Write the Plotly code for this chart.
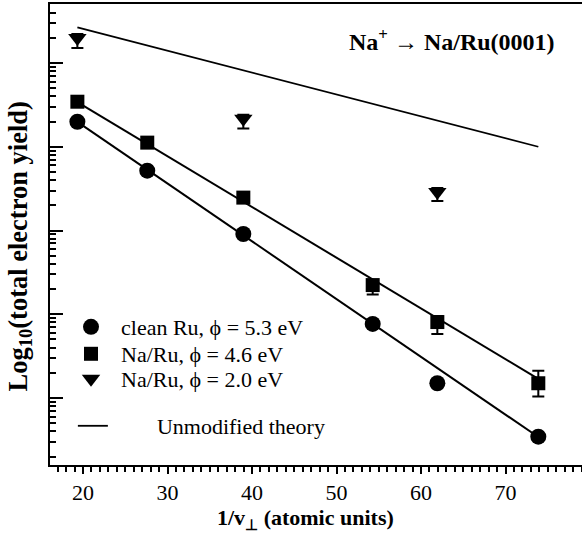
import plotly.graph_objects as go

# ---------------- data ----------------
x_ru = [19.33, 27.6, 38.97, 54.28, 61.93, 73.88]
y_clean = [0.199, 0.0518, 0.00908, 7.66e-4, 1.50e-4, 3.45e-5]
y_na46 = [0.345, 0.112, 0.0247, 2.23e-3, 8.07e-4, 1.50e-4]
err_na46_up = [0, 0, 0, 3.3e-4, 1.46e-4, 6.2e-5]
err_na46_down = [0, 0, 0, 5.1e-4, 2.26e-4, 4.6e-5]

x_na20 = [19.33, 38.97, 61.93]
y_na20 = [1.99, 0.216, 0.0288]
err_na20_up = [0.23, 0.025, 0.0034]
err_na20_down = [0.48, 0.051, 0.0063]

x_line = [19.33, 73.88]
y_theory = [2.67, 0.100]
y_fit_clean = [0.198, 3.42e-5]
y_fit_na46 = [0.342, 1.69e-4]

x_ticks = [20, 30, 40, 50, 60, 70]

names = ["clean Ru, \u03d5 = 5.3 eV", "Na/Ru, \u03d5 = 4.6 eV", "Na/Ru, \u03d5 = 2.0 eV"]
theory_name = "\u00a0" * 8 + "Unmodified theory"

FONT = "Liberation Serif, Times New Roman, serif"
LEG_FONT = dict(size=22, family=FONT)

fig = go.Figure()

# fit lines
fig.add_trace(go.Scatter(x=x_line, y=y_fit_clean, mode="lines",
                         line=dict(color="black", width=2), showlegend=False, hoverinfo="skip"))
fig.add_trace(go.Scatter(x=x_line, y=y_fit_na46, mode="lines",
                         line=dict(color="black", width=2), showlegend=False, hoverinfo="skip"))

# data
fig.add_trace(go.Scatter(x=x_ru, y=y_clean, mode="markers", name=names[0],
                         marker=dict(symbol="circle", size=16, color="black"),
                         legend="legend"))
fig.add_trace(go.Scatter(x=x_ru, y=y_na46, mode="markers", name=names[1],
                         marker=dict(symbol="square", size=14, color="black"),
                         error_y=dict(type="data", symmetric=False, array=err_na46_up,
                                      arrayminus=err_na46_down, color="black",
                                      thickness=2, width=6),
                         legend="legend2"))
fig.add_trace(go.Scatter(x=x_na20, y=y_na20, mode="markers", name=names[2],
                         marker=dict(symbol="triangle-down", size=16, color="black"),
                         error_y=dict(type="data", symmetric=False, array=err_na20_up,
                                      arrayminus=err_na20_down, color="black",
                                      thickness=2, width=6),
                         legend="legend3"))

# theory
fig.add_trace(go.Scatter(x=x_line, y=y_theory, mode="lines", name=theory_name,
                         line=dict(color="black", width=1.8), legend="legend4"))


def leg(y, itemwidth=50, x=0.0207):
    return dict(x=x, y=y, xanchor="left", yanchor="middle",
                bgcolor="rgba(0,0,0,0)", itemwidth=itemwidth, font=LEG_FONT)


fig.update_layout(
    width=582, height=533,
    margin=dict(l=50, r=0, t=4, b=68),
    paper_bgcolor="white", plot_bgcolor="white",
    font=dict(family=FONT, color="black", size=20),
    showlegend=True,
    legend=leg(0.2993),
    legend2=leg(0.2408),
    legend3=leg(0.1866),
    legend4=leg(0.0846, itemwidth=30, x=0.043),
    xaxis=dict(range=[16.09, 79.05], tickvals=x_ticks, ticktext=[str(v) for v in x_ticks],
               ticks="outside", ticklen=7, tickwidth=2, tickcolor="black",
               minor=dict(ticks="outside", dtick=1, ticklen=5, tickwidth=1.5, tickcolor="black"),
               showline=True, linecolor="black", linewidth=2, mirror=True,
               showgrid=False, zeroline=False, tickfont=dict(size=22, family=FONT)),
    yaxis=dict(type="log", range=[-4.800, 0.7045], dtick=1,
               ticks="inside", ticklen=13, tickwidth=2, tickcolor="black",
               minor=dict(ticks="inside", dtick="D1", ticklen=6, tickwidth=1.8, tickcolor="black"),
               showticklabels=False,
               showline=True, linecolor="black", linewidth=2, mirror=False,
               showgrid=False, zeroline=False),
    annotations=[
        dict(text="<b>Log<sub>10</sub>(total electron yield)</b>", textangle=-90,
             xref="paper", yref="paper", x=-0.0564, y=0.474, xanchor="center", yanchor="middle",
             showarrow=False, font=dict(size=26.5, family=FONT)),
        dict(text="<b>1/v<sub>\u22a5</sub> (atomic units)</b>",
             xref="paper", yref="paper", x=0.481, y=-0.117, xanchor="center", yanchor="middle",
             showarrow=False, font=dict(size=22, family=FONT)),
        dict(text="<b>Na<sup>+</sup> \u2192 Na/Ru(0001)</b>",
             xref="paper", yref="paper", x=0.756, y=0.922, xanchor="center", yanchor="middle",
             showarrow=False, font=dict(size=24, family=FONT)),
    ],
)

fig.write_html("out.html", config={"displayModeBar": False},
               post_script="document.body.style.margin='0';")
